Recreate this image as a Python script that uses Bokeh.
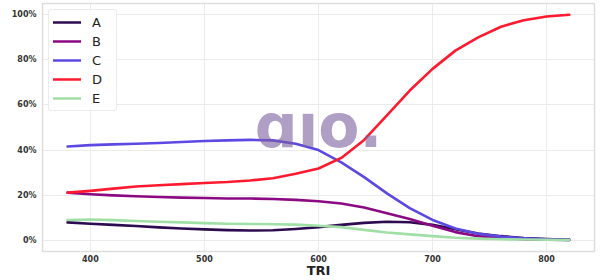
from bokeh.plotting import figure
from bokeh.models import (Range1d, FixedTicker, PrintfTickFormatter, Legend,
                          LegendItem, Label)
from bokeh.embed import file_html
from bokeh.resources import INLINE

# ---- data ----
tri = [380, 400, 420, 440, 460, 480, 500, 520, 540, 560, 580, 600,
       620, 640, 660, 680, 700, 720, 740, 760, 780, 800, 820]

series_a = [7.9, 7.3, 6.8, 6.3, 5.7, 5.2, 4.8, 4.5, 4.3, 4.4, 5.0, 5.8,
            6.8, 7.7, 8.2, 8.0, 6.8, 4.9, 3.0, 1.8, 1.0, 0.5, 0.2]
series_b = [21.1, 20.4, 19.9, 19.5, 19.2, 18.9, 18.7, 18.5, 18.5, 18.3, 17.9, 17.3,
            16.3, 14.5, 12.0, 9.4, 6.4, 3.6, 1.8, 0.9, 0.4, 0.2, 0.1]
series_c = [41.6, 42.2, 42.5, 42.8, 43.1, 43.6, 44.0, 44.3, 44.5, 44.3, 42.8, 40.0,
            34.5, 28.0, 20.8, 14.2, 9.0, 5.2, 2.9, 1.6, 0.8, 0.4, 0.1]
series_d = [21.1, 21.9, 22.9, 23.8, 24.4, 24.9, 25.4, 25.8, 26.5, 27.5, 29.5, 31.8,
            36.5, 44.5, 55.4, 66.4, 76.0, 84.1, 90.0, 94.7, 97.6, 99.2, 100.0]
series_e = [9.0, 9.2, 8.9, 8.5, 8.2, 7.9, 7.6, 7.3, 7.2, 7.1, 6.9, 6.4,
            5.8, 4.6, 3.4, 2.6, 1.8, 1.1, 0.7, 0.4, 0.3, 0.2, 0.1]

names = ["A", "B", "C", "D", "E"]
colors = ["#2d0b50", "#8b0a84", "#5c48e2", "#ff1a30", "#a0dfa6"]
x_ticks = [400, 500, 600, 700, 800]
y_ticks = [0, 20, 40, 60, 80, 100]

p = figure(width=600, height=280, output_backend="svg", toolbar_location=None,
           x_range=Range1d(358, 842), y_range=Range1d(-5, 105),
           min_border_left=42, min_border_right=6, min_border_top=3,
           min_border_bottom=27)

p.background_fill_color = "white"
p.border_fill_color = "white"
p.outline_line_color = "#dddddd"
p.outline_line_width = 1.5

for ax in (p.xaxis[0], p.yaxis[0]):
    ax.axis_line_color = None
    ax.major_tick_line_color = None
    ax.minor_tick_line_color = None
    ax.major_tick_out = 0
    ax.major_tick_in = 0
    ax.minor_tick_out = 0
    ax.minor_tick_in = 0
    ax.major_label_text_font = "DejaVu Sans"
    ax.major_label_text_font_style = "bold"
    ax.major_label_text_font_size = "8px"
    ax.major_label_text_color = "#333333"

p.xaxis.ticker = FixedTicker(ticks=x_ticks)
p.yaxis.ticker = FixedTicker(ticks=y_ticks)
p.yaxis.formatter = PrintfTickFormatter(format="%d%%")
p.xaxis.major_label_standoff = 3
p.yaxis.major_label_standoff = 6

p.xaxis.axis_label = "TRI"
p.xaxis.axis_label_text_font = "DejaVu Sans"
p.xaxis.axis_label_text_font_style = "bold"
p.xaxis.axis_label_text_font_size = "13px"
p.xaxis.axis_label_text_color = "#222222"
p.xaxis.axis_label_standoff = -2

p.grid.grid_line_color = "#ebebeb"
p.grid.grid_line_width = 1

renderers = []
for name, ys, col in zip(names, [series_a, series_b, series_c, series_d, series_e], colors):
    r = p.line(tri, ys, line_color=col, line_width=2.6, line_join="round",
               line_cap="round")
    renderers.append((name, r))

wm = Label(x=600, y=50.5, text="ɑıo.", text_align="center",
           text_baseline="alphabetic", text_font="DejaVu Sans",
           text_font_style="bold", text_font_size="60px",
           text_color="#7b5f9e", text_alpha=0.6)
p.add_layout(wm)

legend = Legend(items=[LegendItem(label=n, renderers=[r]) for n, r in renderers],
                location="top_left", margin=6, padding=4, spacing=3,
                glyph_width=28, glyph_height=16, label_height=16,
                label_standoff=11, label_text_font="DejaVu Sans",
                label_text_font_size="13px", label_text_color="#222222",
                border_line_color="#d8d8d8", border_line_width=1,
                background_fill_color="white", background_fill_alpha=0.85)
legend.border_radius = 3
p.add_layout(legend)

open("out.html", "w").write(file_html(p, INLINE))
